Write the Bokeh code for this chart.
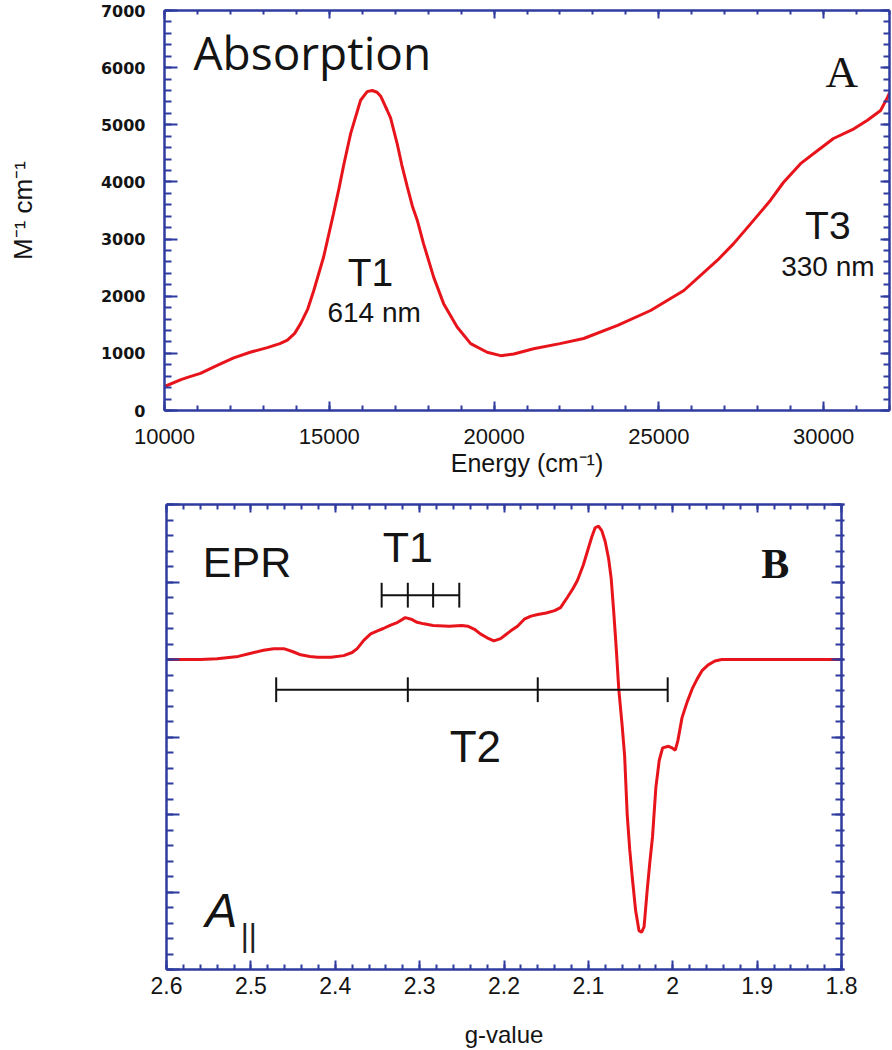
from bokeh.plotting import figure
from bokeh.models import Range1d, LinearAxis, FixedTicker, Label, CustomJSTickFormatter
from bokeh.embed import file_html
from bokeh.resources import INLINE

# ---------------- data: panel A (absorption) ----------------
abs_energy = [10000, 10500, 10700, 11090, 11600, 12100, 12600, 13120, 13500, 13730,
              13950, 14130, 14350, 14530, 14830, 15130, 15300, 15440, 15650, 15950,
              16150, 16300, 16450, 16560, 16760, 16860, 17060, 17200, 17370, 17520,
              17670, 17860, 18170, 18470, 18880, 19290, 19790, 20200, 20600, 21200,
              22000, 22720, 23750, 24750, 25760, 26780, 27270, 27790, 28390, 28780,
              29300, 29820, 30300, 30920, 31330, 31730, 31940, 32000]
abs_eps = [420, 540, 580, 650, 790, 920, 1020, 1100, 1170, 1230,
           1350, 1520, 1780, 2100, 2690, 3450, 3900, 4300, 4850, 5430,
           5580, 5600, 5570, 5500, 5250, 5120, 4670, 4300, 3910, 3580,
           3330, 2920, 2330, 1870, 1460, 1170, 1020, 960, 990, 1080,
           1170, 1260, 1490, 1750, 2100, 2630, 2920, 3270, 3680, 3990,
           4320, 4550, 4760, 4930, 5080, 5250, 5480, 5560]
abs_xticks = [10000, 15000, 20000, 25000, 30000]
abs_yticks = [0, 1000, 2000, 3000, 4000, 5000, 6000, 7000]

# ---------------- data: panel B (EPR) ----------------
epr_g = [2.600, 2.560, 2.540, 2.515, 2.500, 2.485, 2.473, 2.461, 2.450, 2.441,
         2.430, 2.421, 2.405, 2.390, 2.380, 2.374, 2.366, 2.358, 2.350, 2.343,
         2.335, 2.326, 2.317, 2.310, 2.303, 2.295, 2.284, 2.265, 2.250, 2.243,
         2.235, 2.228, 2.220, 2.212, 2.204, 2.198, 2.192, 2.184, 2.176, 2.168,
         2.160, 2.150, 2.140, 2.133, 2.125, 2.118, 2.113, 2.106, 2.101, 2.096,
         2.092, 2.088, 2.084, 2.080, 2.076, 2.073, 2.070, 2.067, 2.064, 2.060,
         2.057, 2.054, 2.051, 2.048, 2.044, 2.040, 2.037, 2.034, 2.030, 2.027,
         2.024, 2.020, 2.016, 2.012, 2.005, 2.001, 1.997, 1.994, 1.989, 1.983,
         1.977, 1.971, 1.965, 1.958, 1.950, 1.942, 1.920, 1.880, 1.840, 1.800]
epr_signal = [0.00, 0.00, 0.01, 0.04, 0.08, 0.12, 0.14, 0.14, 0.10, 0.06,
              0.04, 0.03, 0.03, 0.05, 0.09, 0.14, 0.25, 0.33, 0.37, 0.40,
              0.44, 0.48, 0.54, 0.52, 0.48, 0.46, 0.44, 0.43, 0.44, 0.43,
              0.39, 0.33, 0.28, 0.24, 0.27, 0.32, 0.37, 0.43, 0.52, 0.56,
              0.58, 0.60, 0.63, 0.67, 0.80, 0.92, 1.02, 1.22, 1.40, 1.58,
              1.70, 1.72, 1.66, 1.52, 1.30, 1.05, 0.62, 0.15, -0.38, -0.85,
              -1.25, -2.00, -2.45, -2.81, -3.24, -3.50, -3.52, -3.45, -2.94, -2.60,
              -2.29, -1.65, -1.30, -1.14, -1.12, -1.14, -1.17, -1.05, -0.75, -0.55,
              -0.38, -0.25, -0.14, -0.07, -0.02, 0.00, 0.00, 0.00, 0.00, 0.00]
epr_xticks = [2.6, 2.5, 2.4, 2.3, 2.2, 2.1, 2.0, 1.9, 1.8]
epr_yticks = [-4, -3, -2, -1, 0, 1, 2]
t1_hyperfine_g = [2.345, 2.314, 2.284, 2.253]
t2_hyperfine_g = [2.470, 2.314, 2.160, 2.006]
t1_bar_level = 0.83
t2_bar_level = -0.39
bar_tick_half = 0.16

AXIS = "#2f3b9e"
RED = "#e8141b"
INK = "#141414"

blank = CustomJSTickFormatter(code="return '';")


def style_axis(ax, tin, tmin, tout=0, mout=0, show=True, font_size="14px",
               font="Liberation Sans", standoff=10, bold=False):
    ax.axis_line_color = AXIS
    ax.axis_line_width = 2.5
    ax.major_tick_line_color = AXIS
    ax.major_tick_line_width = 2
    ax.minor_tick_line_color = AXIS
    ax.minor_tick_line_width = 2
    ax.major_tick_in = tin
    ax.major_tick_out = tout
    ax.minor_tick_in = tmin
    ax.minor_tick_out = mout
    if show:
        ax.major_label_text_font = font
        ax.major_label_text_font_size = font_size
        ax.major_label_text_color = INK
        ax.major_label_standoff = standoff
        if bold:
            ax.major_label_text_font_style = "bold"
    else:
        ax.formatter = blank
        ax.major_label_text_font_size = "1px"
        ax.major_label_standoff = 0


def add_text(p, x, y, text, size, font="Liberation Sans", align="left",
             style="normal", color=INK, lift=None):
    if lift is None:
        lift = round(0.38 * size)
    p.add_layout(Label(x=x, y=y, y_offset=lift, text=text, text_font=font,
                       text_font_size=f"{size}px", text_font_style=style,
                       text_color=color, text_align=align,
                       text_baseline="alphabetic"))


# ---------------- panel A ----------------
p1 = figure(width=892, height=480, output_backend="svg", toolbar_location=None,
            x_range=Range1d(10000, 32000), y_range=Range1d(0, 7000),
            min_border_left=164, min_border_right=3, min_border_top=10,
            min_border_bottom=70, outline_line_color=None,
            background_fill_color="white", border_fill_color="white")
p1.xgrid.visible = False
p1.ygrid.visible = False

ax_minor = list(range(10000, 32001, 1000))
ay_minor = list(range(0, 7001, 200))
p1.xaxis.ticker = FixedTicker(ticks=abs_xticks, minor_ticks=ax_minor)
p1.yaxis.ticker = FixedTicker(ticks=abs_yticks, minor_ticks=ay_minor)
style_axis(p1.xaxis[0], 9, 5, font_size="22px", standoff=18)
style_axis(p1.yaxis[0], 13, 7, font_size="16px", font="DejaVu Sans", standoff=19, bold=True)
p1.xaxis.axis_label = "Energy (cm\u207b\u00b9)"
p1.xaxis.axis_label_text_font = "Liberation Sans"
p1.xaxis.axis_label_text_font_size = "25px"
p1.xaxis.axis_label_text_font_style = "normal"
p1.xaxis.axis_label_text_color = INK
p1.xaxis.axis_label_standoff = 2
p1.yaxis.axis_label = "M\u207b\u00b9 cm\u207b\u00b9"
p1.yaxis.axis_label_text_font = "Liberation Sans"
p1.yaxis.axis_label_text_font_size = "26px"
p1.yaxis.axis_label_text_font_style = "normal"
p1.yaxis.axis_label_text_color = INK
p1.yaxis.axis_label_standoff = 60

top1 = LinearAxis(ticker=FixedTicker(ticks=abs_xticks, minor_ticks=ax_minor))
style_axis(top1, 8, 4, show=False)
p1.add_layout(top1, "above")
right1 = LinearAxis(ticker=FixedTicker(ticks=abs_yticks, minor_ticks=ay_minor))
style_axis(right1, 9, 6, show=False)
p1.add_layout(right1, "right")

p1.line(abs_energy, abs_eps, line_color=RED, line_width=3)

add_text(p1, 10880, 5985, "Absorption", 46, font="Open Sans")
add_text(p1, 30060, 5635, "A", 45, font="Liberation Serif")
add_text(p1, 16250, 2150, "T1", 39, align="center")
add_text(p1, 16360, 1520, "614 nm", 28, align="center")
add_text(p1, 30130, 2975, "T3", 39, align="center")
add_text(p1, 30130, 2330, "330 nm", 28, align="center")

# ---------------- panel B ----------------
p2 = figure(width=892, height=570, output_backend="svg", toolbar_location=None,
            x_range=Range1d(2.6, 1.8), y_range=Range1d(-4, 2),
            min_border_left=166, min_border_right=51, min_border_top=24,
            min_border_bottom=81, outline_line_color=None,
            background_fill_color="white", border_fill_color="white")
p2.xgrid.visible = False
p2.ygrid.visible = False

bx_minor = [round(1.8 + 0.02 * i, 2) for i in range(41)]
by_minor = [round(-4 + 0.2 * i, 1) for i in range(31)]
fmt = CustomJSTickFormatter(code="return (Math.round(tick * 10) / 10).toString();")
p2.xaxis.ticker = FixedTicker(ticks=epr_xticks, minor_ticks=bx_minor)
p2.xaxis.formatter = fmt
p2.yaxis.ticker = FixedTicker(ticks=epr_yticks, minor_ticks=by_minor)
style_axis(p2.xaxis[0], 9, 5, font_size="23px", standoff=7)
style_axis(p2.yaxis[0], 13, 7, show=False)
p2.xaxis.axis_label = "g-value"
p2.xaxis.axis_label_text_font = "Liberation Sans"
p2.xaxis.axis_label_text_font_size = "24px"
p2.xaxis.axis_label_text_font_style = "normal"
p2.xaxis.axis_label_text_color = INK
p2.xaxis.axis_label_standoff = 24

top2 = LinearAxis(ticker=FixedTicker(ticks=epr_xticks, minor_ticks=bx_minor))
style_axis(top2, 8, 5, show=False)
p2.add_layout(top2, "above")
right2 = LinearAxis(ticker=FixedTicker(ticks=epr_yticks, minor_ticks=by_minor))
style_axis(right2, 10, 6, tout=3, mout=3, show=False)
p2.add_layout(right2, "right")

p2.line(epr_g, epr_signal, line_color=RED, line_width=3)

# hyperfine stick diagrams
for gs, lvl in ((t1_hyperfine_g, t1_bar_level), (t2_hyperfine_g, t2_bar_level)):
    p2.segment(x0=[max(gs)], x1=[min(gs)], y0=[lvl], y1=[lvl],
               line_color="#111111", line_width=2)
    p2.segment(x0=gs, x1=gs, y0=[lvl - bar_tick_half] * len(gs),
               y1=[lvl + bar_tick_half] * len(gs), line_color="#111111", line_width=2)

add_text(p2, 2.557, 1.058, "EPR", 43)
add_text(p2, 2.314, 1.25, "T1", 43, align="center")
add_text(p2, 1.895, 1.02, "B", 42, font="Liberation Serif", style="bold")
add_text(p2, 2.234, -1.34, "T2", 44, align="center")
add_text(p2, 2.554, -3.47, "A", 48, style="italic")
add_text(p2, 2.512, -3.63, "||", 31, color="#222222", lift=5)

open("out.html", "w").write(file_html([p1, p2], INLINE))
